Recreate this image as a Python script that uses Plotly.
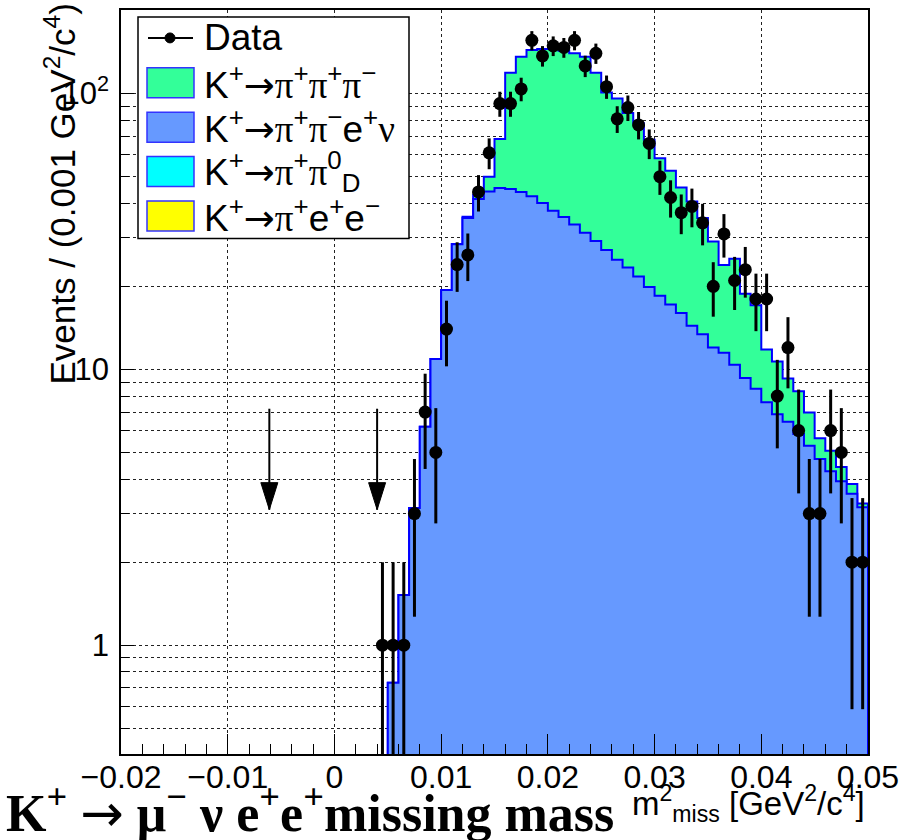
import numpy as np
import plotly.graph_objects as go

# ---------------- data ----------------
BIN_WIDTH = 0.001
X_RANGE = [-0.02, 0.05]
Y_RANGE = [0.403, 201.0]

# MC stack (bins of 0.001 starting at the first non-empty bin edge)
MC_FIRST_EDGE = 0.005
k_pipienu = [0.73, 1.52, 3.14, 6.2, 10.9, 19.4, 28.4, 35.4, 41.5, 44.2, 45.5, 45.1, 44.0, 42.4,
             40.1, 37.6, 35.7, 33.5, 31.3, 29.2, 27.1, 25.0, 23.4, 21.7, 19.9, 18.5, 17.2, 16.0,
             14.4, 13.4, 12.0, 11.5, 10.4, 9.3, 8.5, 7.6, 6.88, 6.46, 5.83, 5.28, 4.73, 4.27,
             3.93, 3.54, 3.16]
k_3pi = [0, 0, 0, 0, 0, 0, 0.1, 0.4, 1.5, 5.8, 23.0, 73.9, 92.0, 101.6, 104.9, 107.4, 107.3,
         106.5, 104.7, 89.8, 73.9, 71.0, 61.6, 56.3, 48.1, 39.8, 35.3, 29.7, 26.2, 22.0, 17.1,
         12.4, 14.8, 9.5, 8.6, 4.2, 3.8, 2.8, 2.5, 1.7, 0.9, 0.8, 0.5, 0.3, 0.1]

# Data points (bin centres starting at 0.0045)
DATA_FIRST_CENTER = 0.0045
data_counts = [1, 1, 1, 3, 7, 5, 14, 24, 26, 44, 61, 92, 92, 104, 156, 137, 149, 147, 156, 126,
               140, 106, 81, 89, 77, 66, 50, 42, 37, 39, 34, 20, 31, 21, 23, 18, 18, 8, 12, 6,
               3, 3, 6, 5, 2, 2]

# signal-window arrows
arrow_x = [-0.0061, 0.0040]
ARROW_TIP_Y = 3.1
ARROW_TOP_Y = 7.2


def greek(ch):
    return '<span style="font-family:Liberation Serif">' + ch + '</span>'


ARROW = '<span style="font-family:DejaVu Sans">→</span>'
PI = greek("π")

legend_labels = ["Data",
                 "K<sup>+</sup>" + ARROW + PI + "<sup>+</sup>" + PI + "<sup>+</sup>" + PI + "<sup>−</sup>",
                 "K<sup>+</sup>" + ARROW + PI + "<sup>+</sup>" + PI + "<sup>−</sup>e<sup>+</sup>" + greek("ν"),
                 "K<sup>+</sup>" + ARROW + PI + "<sup>+</sup>" + PI + "<sup>0</sup><sub>D</sub>",
                 "K<sup>+</sup>" + ARROW + PI + "<sup>+</sup>e<sup>+</sup>e<sup>−</sup>"]

# ---------------- styles ----------------
GREEN = "#33ff99"
BLUE_FILL = "#6699ff"
CYAN = "#00ffff"
YELLOW = "#ffff00"
OUTLINE = "#0000ff"
SANS = "Liberation Sans, Arial, Helvetica, sans-serif"

PLOT_L, PLOT_R, PLOT_T, PLOT_B = 121, 868, 8, 754
W, H = 913, 840


def px_x(p):
    return (p - PLOT_L) / (PLOT_R - PLOT_L)


def px_y(p):
    return (PLOT_B - p) / (PLOT_B - PLOT_T)


def step_polygon(first_edge, vals, floor):
    n = len(vals)
    edges = first_edge + BIN_WIDTH * np.arange(n + 1)
    xs, ys = [edges[0]], [floor]
    for i, v in enumerate(vals):
        v = v if v > 0 else floor
        xs += [edges[i], edges[i + 1]]
        ys += [v, v]
    xs.append(edges[-1])
    ys.append(floor)
    return xs, ys


floor = Y_RANGE[0] / 100.0
blue = np.array(k_pipienu)
total = blue + np.array(k_3pi)

fig = go.Figure()
xs, ys = step_polygon(MC_FIRST_EDGE, total, floor)
fig.add_trace(go.Scatter(x=xs, y=ys, mode="lines", fill="toself", fillcolor=GREEN,
                         line=dict(color=OUTLINE, width=2), hoverinfo="skip"))
xs, ys = step_polygon(MC_FIRST_EDGE, blue, floor)
fig.add_trace(go.Scatter(x=xs, y=ys, mode="lines", fill="toself", fillcolor=BLUE_FILL,
                         line=dict(color=OUTLINE, width=2), hoverinfo="skip"))

counts = np.array(data_counts, dtype=float)
centers = DATA_FIRST_CENTER + BIN_WIDTH * np.arange(len(counts))
fig.add_trace(go.Scatter(x=centers, y=counts, mode="markers",
                         marker=dict(color="black", size=13),
                         error_y=dict(type="data", array=np.sqrt(counts), color="black",
                                      thickness=3, width=0)))

shapes = []
# arrows
for ax in arrow_x:
    shapes.append(dict(type="line", xref="x", yref="y", x0=ax, x1=ax,
                       y0=ARROW_TOP_Y, y1=ARROW_TIP_Y, line=dict(color="black", width=2),
                       layer="above"))
    shapes.append(dict(type="path", xref="x", yref="y", xsizemode="pixel", ysizemode="pixel",
                       xanchor=ax, yanchor=ARROW_TIP_Y, path="M0,0 L-8.5,27 L8.5,27 Z",
                       fillcolor="black", line=dict(color="black", width=1), layer="above"))

# manual ROOT-style legend
shapes.append(dict(type="rect", xref="paper", yref="paper",
                   x0=px_x(138), x1=px_x(409), y0=px_y(237), y1=px_y(15),
                   fillcolor="white", line=dict(color="black", width=1.5), layer="above"))
row_y = [36, 81, 125.5, 170, 214.5]
shapes.append(dict(type="line", xref="paper", yref="paper", x0=px_x(148), x1=px_x(193),
                   y0=px_y(row_y[0]), y1=px_y(row_y[0]), line=dict(color="black", width=2),
                   layer="above"))
shapes.append(dict(type="circle", xref="paper", yref="paper", x0=px_x(165), x1=px_x(175),
                   y0=px_y(row_y[0] + 5), y1=px_y(row_y[0] - 5), fillcolor="black",
                   line=dict(color="black", width=1), layer="above"))
for yy, col in zip(row_y[1:], [GREEN, BLUE_FILL, CYAN, YELLOW]):
    shapes.append(dict(type="rect", xref="paper", yref="paper", x0=px_x(147), x1=px_x(194),
                       y0=px_y(yy + 15), y1=px_y(yy - 15), fillcolor=col,
                       line=dict(color="#3333ff", width=1.5), layer="above"))

annotations = []
for yy, lab in zip(row_y, legend_labels):
    annotations.append(dict(xref="paper", yref="paper", x=px_x(202), y=px_y(yy),
                            xanchor="left", yanchor="middle", text=lab, showarrow=False,
                            font=dict(family=SANS, size=37, color="black")))

annotations.append(dict(xref="paper", yref="paper", x=px_x(60), y=px_y(0),
                        xanchor="center", yanchor="top", textangle=-90, showarrow=False,
                        text="Events / (0.001 GeV<sup>2</sup>/c<sup>4</sup>)",
                        font=dict(family=SANS, size=35, color="black")))
annotations.append(dict(xref="paper", yref="paper", x=px_x(867), y=px_y(804),
                        xanchor="right", yanchor="middle", showarrow=False,
                        text="m<sup>2</sup><sub>miss</sub> [GeV<sup>2</sup>/c<sup>4</sup>]",
                        font=dict(family=SANS, size=33, color="black")))
annotations.append(dict(xref="paper", yref="paper", x=px_x(4), y=px_y(810),
                        xanchor="left", yanchor="middle", showarrow=False,
                        text="<b>K<sup>+</sup> <span style=\"font-family:DejaVu Sans;font-weight:normal\">→</span> "
                             "μ<sup>−</sup> ν e<sup>+</sup>e<sup>+</sup>missing mass</b>",
                        font=dict(family="Liberation Serif, Times New Roman, serif", size=52,
                                  color="black")))

minor_y = [m * 10.0 ** e for e in (-1, 0, 1, 2) for m in range(2, 10)]

fig.update_layout(
    width=W, height=H,
    margin=dict(l=PLOT_L, r=W - PLOT_R, t=PLOT_T, b=H - PLOT_B),
    paper_bgcolor="white", plot_bgcolor="white",
    showlegend=False,
    font=dict(family=SANS, size=31, color="black"),
    shapes=shapes, annotations=annotations,
    xaxis=dict(range=X_RANGE, tick0=0, dtick=0.01, ticks="inside", ticklen=20,
               tickwidth=1, tickcolor="black", showline=True, linecolor="black",
               linewidth=1.5, mirror=True, zeroline=False, showgrid=True,
               gridcolor="#222", griddash="dot", gridwidth=1,
               tickfont=dict(family=SANS, size=32), ticklabelstandoff=-6,
               minor=dict(dtick=0.002, tick0=0, ticks="inside", ticklen=10,
                          tickcolor="black", tickwidth=1, showgrid=False)),
    yaxis=dict(type="log", range=[np.log10(Y_RANGE[0]), np.log10(Y_RANGE[1])],
               tickmode="array", tickvals=[1, 10, 100], ticktext=["1", "10", "10<sup>2</sup>"],
               ticks="inside", ticklen=13, tickwidth=1, tickcolor="black",
               showline=True, linecolor="black", linewidth=1.5, mirror=True,
               zeroline=False, showgrid=True, gridcolor="#222", griddash="dot", gridwidth=1,
               tickfont=dict(family=SANS, size=31), ticklabelstandoff=4,
               minor=dict(tickmode="array", tickvals=minor_y, ticks="inside", ticklen=8,
                          tickcolor="black", tickwidth=1, showgrid=True,
                          gridcolor="#222", griddash="dot", gridwidth=1)),
)

fig.write_html("out.html", config={"displayModeBar": False},
               post_script="document.body.style.margin='0px';")
